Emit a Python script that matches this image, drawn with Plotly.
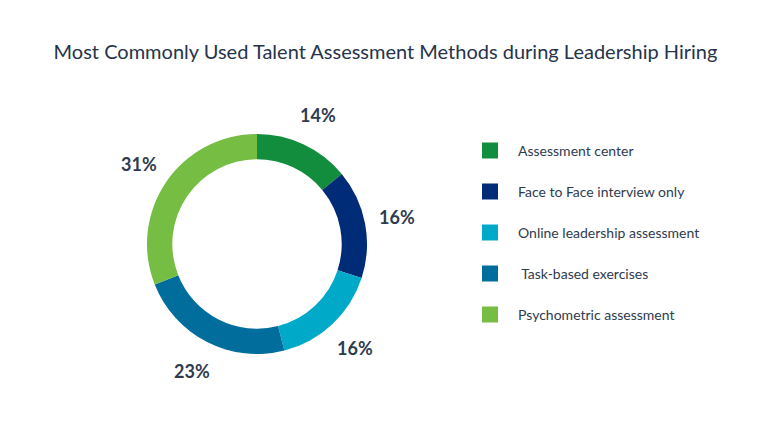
import math
import plotly.graph_objects as go

labels = ["Assessment center", "Face to Face interview only", "Online leadership assessment",
          " Task-based exercises", "Psychometric assessment"]
values = [14, 16, 16, 23, 31]
colors = ["#128c3d", "#002b76", "#00a9c8", "#006d9c", "#75bd43"]
title = "Most Commonly Used Talent Assessment Methods during Leadership Hiring"

W, H = 771, 426
cx, cy, R = 257, 244, 110
text_color = "#2e3b4e"
font = "Lato, 'Open Sans', sans-serif"

fig = go.Figure(go.Pie(
    labels=labels, values=values, hole=0.77, sort=False, direction="clockwise",
    rotation=0, marker=dict(colors=colors, line=dict(width=0)),
    textinfo="none", hoverinfo="label+percent", showlegend=False,
    domain=dict(x=[(cx - R) / W, (cx + R) / W], y=[(H - cy - R) / H, (H - cy + R) / H]),
))

annotations = []
total = sum(values)
cum = 0
label_r = 143
for v in values:
    mid = (cum + v / 2) / total * 2 * math.pi
    cum += v
    px = cx + label_r * math.sin(mid)
    py = cy - label_r * math.cos(mid)
    annotations.append(dict(x=px / W, y=1 - py / H, xref="paper", yref="paper",
                            xanchor="center", yanchor="middle",
                            text=f"<b>{round(v / total * 100)}%</b>", showarrow=False,
                            font=dict(size=18, color=text_color, family=font)))

shapes = []
leg_x, leg_y0, leg_gap, sq = 482, 150.5, 41, 16
for i, (lab, col) in enumerate(zip(labels, colors)):
    yc = leg_y0 + i * leg_gap
    shapes.append(dict(type="rect", xref="paper", yref="paper",
                       x0=leg_x / W, x1=(leg_x + sq) / W,
                       y0=1 - (yc + sq / 2) / H, y1=1 - (yc - sq / 2) / H,
                       fillcolor=col, line=dict(width=0)))
    txt = ("&nbsp;" + lab[1:]) if lab.startswith(" ") else lab
    annotations.append(dict(x=516 / W, y=1 - yc / H, xref="paper", yref="paper",
                            xanchor="left", yanchor="middle", text=txt,
                            showarrow=False, font=dict(size=14, color=text_color, family=font)))

fig.update_layout(
    width=W, height=H, margin=dict(l=0, r=0, t=0, b=0),
    paper_bgcolor="white", plot_bgcolor="white",
    title=dict(text=title, x=0.5, xanchor="center", y=1 - 52 / H, yanchor="middle",
               font=dict(size=20, color="#26334a", family=font)),
    annotations=annotations, shapes=shapes,
)

fig.write_html("out.html")
